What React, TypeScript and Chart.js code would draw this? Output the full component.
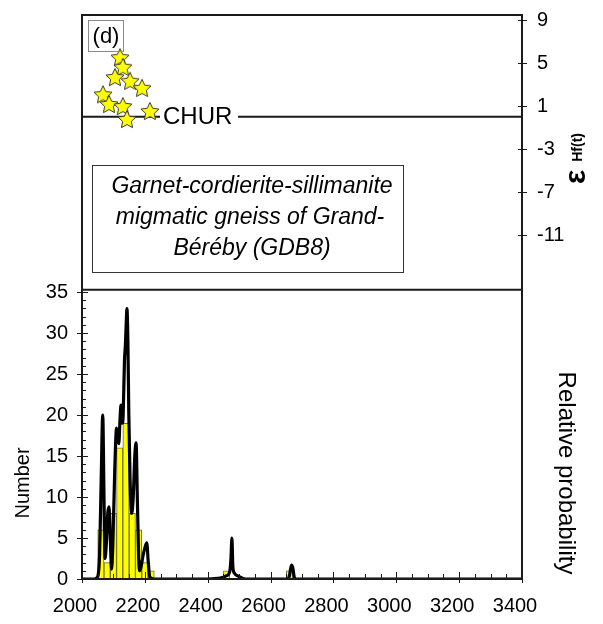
import React, { useEffect, useRef } from 'react';
import { Chart, registerables } from 'chart.js';

Chart.register(...registerables);

// ---- data ----
// Histogram (20 Ma bins, centres)
const binCentres = [2060, 2080, 2100, 2120, 2140, 2160, 2180, 2200, 2220, 2460, 2660];
const binCounts = [6, 2, 8, 16, 19, 8, 6, 2, 1, 1, 1];

// Relative probability curve (scaled to the Number axis)
const probAges = [
  2000, 2040, 2050, 2056, 2061, 2066, 2070, 2073, 2077, 2082, 2086, 2090, 2094, 2098,
  2104, 2110, 2114, 2117, 2121, 2124, 2128, 2131, 2135, 2138, 2141, 2143, 2146, 2149,
  2153, 2158, 2163, 2168, 2172, 2176, 2180, 2183, 2188, 2194, 2200, 2206, 2211, 2216,
  2230, 2400, 2440, 2460, 2470, 2474, 2477, 2480, 2485, 2500, 2520, 2655, 2660, 2664,
  2667, 2671, 2675, 2680, 3400,
];
const probValues = [
  0, 0, 0.3, 3, 12, 20, 10, 2.5, 4, 8, 8.8, 5, 1.2, 4,
  13, 18.4, 17, 16.5, 19.5, 21.2, 19, 20, 26.5, 28.5, 31.5, 33, 29, 20,
  12, 8, 10, 15, 16.6, 10, 3, 1, 1.5, 2.8, 3.8, 4.4, 2, 0.2,
  0, 0, 0.1, 0.4, 0.9, 2.5, 5, 1.5, 0.7, 0.3, 0, 0, 0.4, 1.3,
  1.7, 1.3, 0.3, 0, 0,
];

// εHf(t) data points
const hfAges = [2121, 2130, 2105, 2153, 2191, 2067, 2086, 2130, 2216, 2143];
const hfValues = [5.55, 4.65, 3.7, 3.35, 2.7, 2.1, 1.2, 1.0, 0.55, -0.2];

// Axis ticks / reference
const xTickStep = 200;
const countTickLabels = [0, 5, 10, 15, 20, 25, 30, 35];
const hfTickLabels = [9, 5, 1, -3, -7, -11];
const churValue = 0;
const panelDividerHf = -16.1;

const X_MIN = 2000;
const X_MAX = 3400;
const COUNT_MAX = 68.8; // lower panel uses 0..35 of the full height
const HF_MAX = 9.47;
const HF_MIN = -43.0; // upper panel uses the top part of the full height

const FONT = '"Liberation Sans", Arial, sans-serif';
const INK = '#1a1a1a';

function makeStar(size: number): HTMLCanvasElement {
  const c = document.createElement('canvas');
  c.width = size;
  c.height = size;
  const ctx = c.getContext('2d')!;
  const cx = size / 2;
  const cy = size / 2 + 1;
  const R = size / 2 - 1.5;
  const r = R * 0.48;
  ctx.beginPath();
  for (let i = 0; i < 10; i++) {
    const ang = -Math.PI / 2 + (i * Math.PI) / 5;
    const rad = i % 2 ? r : R;
    ctx.lineTo(cx + rad * Math.cos(ang), cy + rad * Math.sin(ang));
  }
  ctx.closePath();
  ctx.fillStyle = '#ffff00';
  ctx.fill();
  ctx.strokeStyle = '#3a3a2a';
  ctx.lineWidth = 1;
  ctx.stroke();
  return c;
}

const decorPlugin = {
  id: 'decor',
  beforeDatasetsDraw(chart: any) {
    const { ctx, chartArea: a, scales } = chart;
    const yh = scales.yHf;
    const yChur = yh.getPixelForValue(churValue);
    ctx.save();
    ctx.strokeStyle = INK;
    ctx.lineWidth = 2;
    ctx.beginPath();
    ctx.moveTo(a.left, yChur);
    ctx.lineTo(160, yChur);
    ctx.moveTo(238, yChur);
    ctx.lineTo(a.right, yChur);
    ctx.stroke();
    ctx.fillStyle = '#000';
    ctx.font = `24px ${FONT}`;
    ctx.textBaseline = 'middle';
    ctx.textAlign = 'left';
    ctx.fillText('CHUR', 163, yChur + 1);
    ctx.restore();
  },
  afterDatasetsDraw(chart: any) {
    const { ctx, chartArea: a, scales } = chart;
    const x = scales.x;
    const yc = scales.yCount;
    const yh = scales.yHf;
    ctx.save();
    ctx.strokeStyle = INK;
    ctx.lineWidth = 1;
    // x ticks (inward)
    for (let v = X_MIN; v <= X_MAX; v += 50) {
      const px = Math.round(x.getPixelForValue(v)) + 0.5;
      const major = (v - X_MIN) % xTickStep === 0;
      ctx.beginPath();
      ctx.moveTo(px, a.bottom - (major ? 7 : 5));
      ctx.lineTo(px, a.bottom + (major ? 4 : 0));
      ctx.stroke();
    }
    // count ticks
    for (let v = 0; v <= 35; v++) {
      const py = Math.round(yc.getPixelForValue(v)) + 0.5;
      const major = v % 5 === 0;
      ctx.beginPath();
      ctx.moveTo(a.left - (major ? 5 : 0), py);
      ctx.lineTo(a.left + (major ? 6 : 4), py);
      ctx.stroke();
    }
    // hf ticks
    for (const v of hfTickLabels) {
      const py = Math.round(yh.getPixelForValue(v)) + 0.5;
      ctx.beginPath();
      ctx.moveTo(a.right - 4, py);
      ctx.lineTo(a.right + 5, py);
      ctx.stroke();
    }
    // frame + divider
    ctx.lineWidth = 2;
    ctx.strokeRect(a.left, a.top, a.right - a.left, a.bottom - a.top);
    const yDiv = yh.getPixelForValue(panelDividerHf);
    ctx.beginPath();
    ctx.moveTo(a.left, yDiv);
    ctx.lineTo(a.right, yDiv);
    ctx.stroke();

    // (d) box
    ctx.lineWidth = 1;
    ctx.strokeStyle = '#8a8a8a';
    ctx.strokeRect(88.5, 20.5, 35, 31);
    ctx.fillStyle = '#000';
    ctx.font = `22px ${FONT}`;
    ctx.textAlign = 'center';
    ctx.textBaseline = 'middle';
    ctx.fillText('(d)', 106, 37);

    // sample text box
    ctx.fillStyle = '#fff';
    ctx.fillRect(92, 165, 311, 107);
    ctx.strokeStyle = '#333';
    ctx.strokeRect(92.5, 165.5, 311, 107);
    ctx.fillStyle = '#000';
    ctx.font = `italic 23px ${FONT}`;
    ctx.fillText('Garnet-cordierite-sillimanite', 252, 187);
    ctx.fillText('migmatic gneiss of Grand-', 250, 218);
    ctx.fillText('Béréby (GDB8)', 252, 249);

    // axis titles
    ctx.font = `20px ${FONT}`;
    ctx.save();
    ctx.translate(23, 483);
    ctx.rotate(-Math.PI / 2);
    ctx.fillText('Number', 0, 0);
    ctx.restore();

    ctx.font = `24px ${FONT}`;
    ctx.save();
    ctx.translate(566, 473);
    ctx.rotate(Math.PI / 2);
    ctx.fillText('Relative probability', 0, 0);
    ctx.restore();

    ctx.save();
    ctx.translate(585, 184);
    ctx.rotate(-Math.PI / 2);
    ctx.textAlign = 'left';
    ctx.textBaseline = 'alphabetic';
    ctx.font = `bold 30px ${FONT}`;
    ctx.fillText('ε', 0, 0);
    const w = ctx.measureText('ε').width;
    ctx.font = `bold 14px ${FONT}`;
    ctx.fillText('Hf(t)', w + 8, -3);
    ctx.restore();

    ctx.restore();
  },
};

export default function App() {
  const ref = useRef<HTMLCanvasElement | null>(null);

  useEffect(() => {
    if (!ref.current) return;
    const star = makeStar(22);
    const tickFont = { family: FONT, size: 20 };
    const noPad = (s: any) => {
      s.paddingTop = 0;
      s.paddingBottom = 0;
    };
    const chart = new Chart(ref.current, {
      type: 'bar',
      data: {
        datasets: [
          {
            type: 'scatter',
            label: 'eHf',
            data: hfAges.map((a, i) => ({ x: a, y: hfValues[i] })),
            xAxisID: 'x',
            yAxisID: 'yHf',
            pointStyle: star as any,
            pointRadius: 11,
            order: 0,
          } as any,
          {
            type: 'line',
            label: 'prob',
            data: probAges.map((a, i) => ({ x: a, y: probValues[i] })),
            xAxisID: 'x',
            yAxisID: 'yCount',
            borderColor: '#000',
            borderWidth: 3.2,
            pointRadius: 0,
            cubicInterpolationMode: 'monotone',
            fill: false,
            order: 1,
          } as any,
          {
            type: 'bar',
            label: 'count',
            data: binCentres.map((a, i) => ({ x: a, y: binCounts[i] })),
            xAxisID: 'x',
            yAxisID: 'yCount',
            backgroundColor: '#ffff00',
            borderColor: '#6e6e3c',
            borderWidth: 1,
            barPercentage: 1,
            categoryPercentage: 1,
            order: 2,
          } as any,
        ],
      },
      options: {
        responsive: false,
        animation: false,
        devicePixelRatio: 1,
        layout: { padding: { top: 15, left: 0, right: 0, bottom: 0 } },
        plugins: {
          legend: { display: false },
          tooltip: { enabled: false },
        },
        scales: {
          x: {
            type: 'linear',
            position: 'bottom',
            offset: false,
            min: X_MIN,
            max: X_MAX,
            grid: { display: false, drawTicks: false, tickLength: 0 },
            border: { display: false },
            ticks: {
              stepSize: xTickStep,
              font: tickFont,
              color: '#000',
              padding: 15,
              labelOffset: -7,
              maxRotation: 0,
              autoSkip: false,
              callback: (v: any) => String(v),
            },
            afterFit: (s: any) => {
              s.height = 45;
              s.paddingLeft = 0;
              s.paddingRight = 0;
            },
          },
          yCount: {
            type: 'linear',
            position: 'left',
            min: 0,
            max: COUNT_MAX,
            grid: { display: false, drawTicks: false, tickLength: 0 },
            border: { display: false },
            ticks: { font: tickFont, color: '#000', padding: 14 },
            afterBuildTicks: (s: any) => {
              s.ticks = countTickLabels.map((v) => ({ value: v }));
            },
            afterFit: (s: any) => {
              s.width = 82;
              noPad(s);
            },
          },
          yHf: {
            type: 'linear',
            position: 'right',
            min: HF_MIN,
            max: HF_MAX,
            grid: { display: false, drawTicks: false, tickLength: 0 },
            border: { display: false },
            ticks: { font: tickFont, color: '#000', padding: 15 },
            afterBuildTicks: (s: any) => {
              s.ticks = hfTickLabels.map((v) => ({ value: v }));
            },
            afterFit: (s: any) => {
              s.width = 81;
              noPad(s);
            },
          },
        },
      } as any,
      plugins: [decorPlugin],
    });
    return () => chart.destroy();
  }, []);

  return (
    <div style={{ position: 'fixed', left: 0, top: 0, width: 603, height: 624, background: '#fff' }}>
      <canvas ref={ref} width={603} height={624} style={{ display: 'block' }} />
    </div>
  );
}
